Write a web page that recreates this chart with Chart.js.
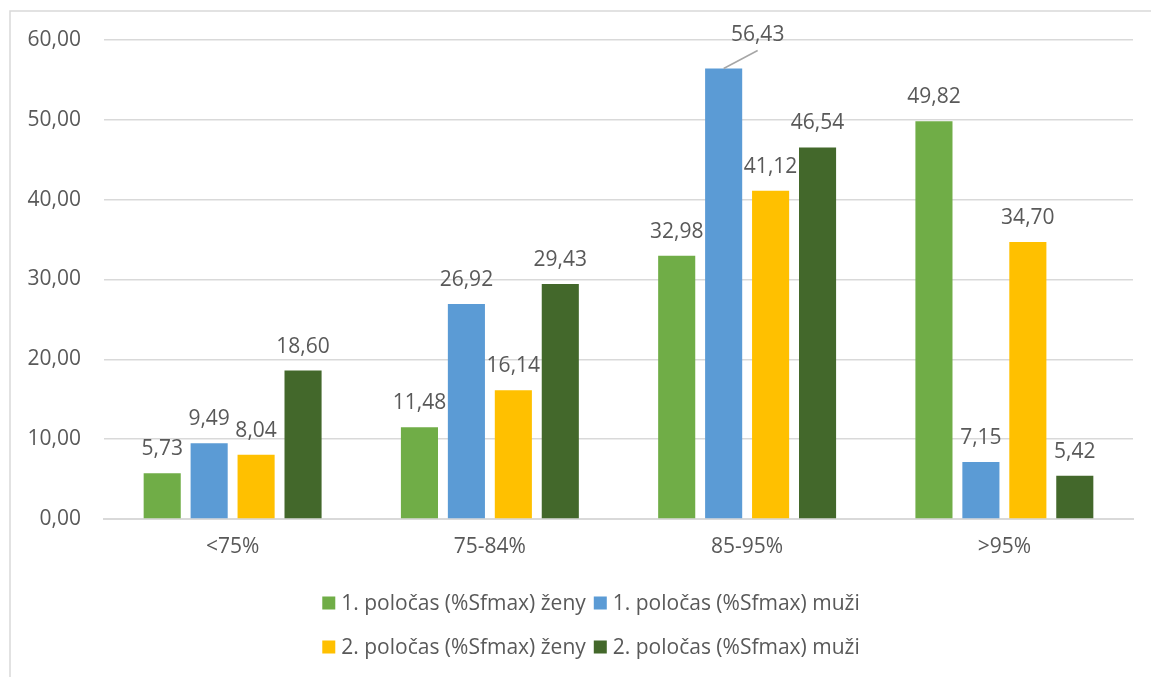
<!DOCTYPE html>
<html>
<head>
<meta charset="utf-8">
<script src="https://cdn.jsdelivr.net/npm/chart.js@4/dist/chart.umd.min.js"></script>
<style>
  html, body { margin: 0; padding: 0; background: #fff; }
  #wrap { position: relative; width: 1151px; height: 677px; }
</style>
</head>
<body>
<div id="wrap"><canvas id="chart" width="1151" height="677"></canvas></div>
<script>
const categories = ['<75%', '75-84%', '85-95%', '>95%'];
const seriesNames = [
    '1. poločas (%Sfmax) ženy',
    '1. poločas (%Sfmax) muži',
    '2. poločas (%Sfmax) ženy',
    '2. poločas (%Sfmax) muži'
];
const zenyFirst = [5.73, 11.48, 32.98, 49.82];
const muziFirst = [9.49, 26.92, 56.43, 7.15];
const zenySecond = [8.04, 16.14, 41.12, 34.70];
const muziSecond = [18.60, 29.43, 46.54, 5.42];
const yTicks = [0, 10, 20, 30, 40, 50, 60];

const colors = ['#70ad47', '#5b9bd5', '#ffc000', '#43682b'];
const FONT = '"Open Sans", sans-serif';
const FSIZE = 21;
const TEXT = '#595959';
const GRID = '#d9d9d9';

const fmt = v => v.toFixed(2).replace('.', ',');

// chart frame like the office chart border
const framePlugin = {
    id: 'frame',
    beforeDraw(chart) {
        const ctx = chart.ctx;
        ctx.save();
        ctx.fillStyle = '#fff';
        ctx.fillRect(0, 0, chart.width, chart.height);
        ctx.strokeStyle = GRID;
        ctx.lineWidth = 1.5;
        ctx.strokeRect(10, 11, chart.width + 20, chart.height + 20);
        ctx.restore();
    }
};

// value labels above bars, one of them moved aside with a leader line
const labelPlugin = {
    id: 'valueLabels',
    afterDatasetsDraw(chart) {
        const ctx = chart.ctx;
        ctx.save();
        ctx.font = FSIZE + 'px ' + FONT;
        ctx.fillStyle = TEXT;
        ctx.textAlign = 'center';
        ctx.textBaseline = 'alphabetic';
        chart.data.datasets.forEach((ds, i) => {
            chart.getDatasetMeta(i).data.forEach((bar, j) => {
                const text = fmt(ds.data[j]);
                if (i === 1 && j === 2) {
                    ctx.strokeStyle = '#a6a6a6';
                    ctx.lineWidth = 1.5;
                    ctx.beginPath();
                    ctx.moveTo(bar.x, bar.y);
                    ctx.lineTo(bar.x + 34, bar.y - 18);
                    ctx.stroke();
                    ctx.fillText(text, bar.x + 34, bar.y - 28);
                } else {
                    ctx.fillText(text, bar.x, bar.y - 18);
                }
            });
        });
        ctx.restore();
    }
};

// legend in two rows, centred under the plot
const legendPlugin = {
    id: 'twoRowLegend',
    afterDraw(chart) {
        const ctx = chart.ctx;
        const rows = [[0, 1], [2, 3]];
        const rowY = [603, 647];
        const box = 13, gap = 6, spacing = 8;
        ctx.save();
        ctx.font = FSIZE + 'px ' + FONT;
        ctx.textBaseline = 'middle';
        ctx.textAlign = 'left';
        rows.forEach((row, r) => {
            const widths = row.map(i => box + gap + ctx.measureText(seriesNames[i]).width);
            const total = widths.reduce((a, b) => a + b, 0) + spacing * (row.length - 1);
            let x = 591 - total / 2;
            row.forEach((i, k) => {
                ctx.fillStyle = colors[i];
                ctx.fillRect(x, rowY[r] - box / 2, box, box);
                ctx.fillStyle = TEXT;
                ctx.fillText(seriesNames[i], x + box + gap, rowY[r] + 1);
                x += widths[k] + spacing;
            });
        });
        ctx.restore();
    }
};

new Chart(document.getElementById('chart'), {
    type: 'bar',
    data: {
        labels: categories,
        datasets: [zenyFirst, muziFirst, zenySecond, muziSecond].map((d, i) => ({
            label: seriesNames[i],
            data: d,
            backgroundColor: colors[i],
            categoryPercentage: 0.73,
            barPercentage: 0.79
        }))
    },
    options: {
        responsive: false,
        animation: false,
        layout: { padding: { left: 0, right: 18, top: 40, bottom: 108 } },
        plugins: {
            legend: { display: false },
            tooltip: { enabled: false }
        },
        scales: {
            x: {
                grid: { display: false, drawTicks: false },
                border: { color: GRID, width: 2 },
                ticks: { color: TEXT, font: { family: FONT, size: FSIZE }, padding: 15 },
                afterFit: s => { s.height = 50; }
            },
            y: {
                min: 0,
                max: 60,
                afterBuildTicks: s => { s.ticks = yTicks.map(v => ({ value: v })); },
                grid: { color: GRID, lineWidth: 1.5, drawTicks: false },
                border: { display: false },
                ticks: {
                    color: TEXT,
                    font: { family: FONT, size: FSIZE },
                    padding: 23,
                    callback: v => fmt(v)
                },
                afterFit: s => { s.width = 104; }
            }
        }
    },
    plugins: [framePlugin, labelPlugin, legendPlugin]
});
</script>
</body>
</html>
